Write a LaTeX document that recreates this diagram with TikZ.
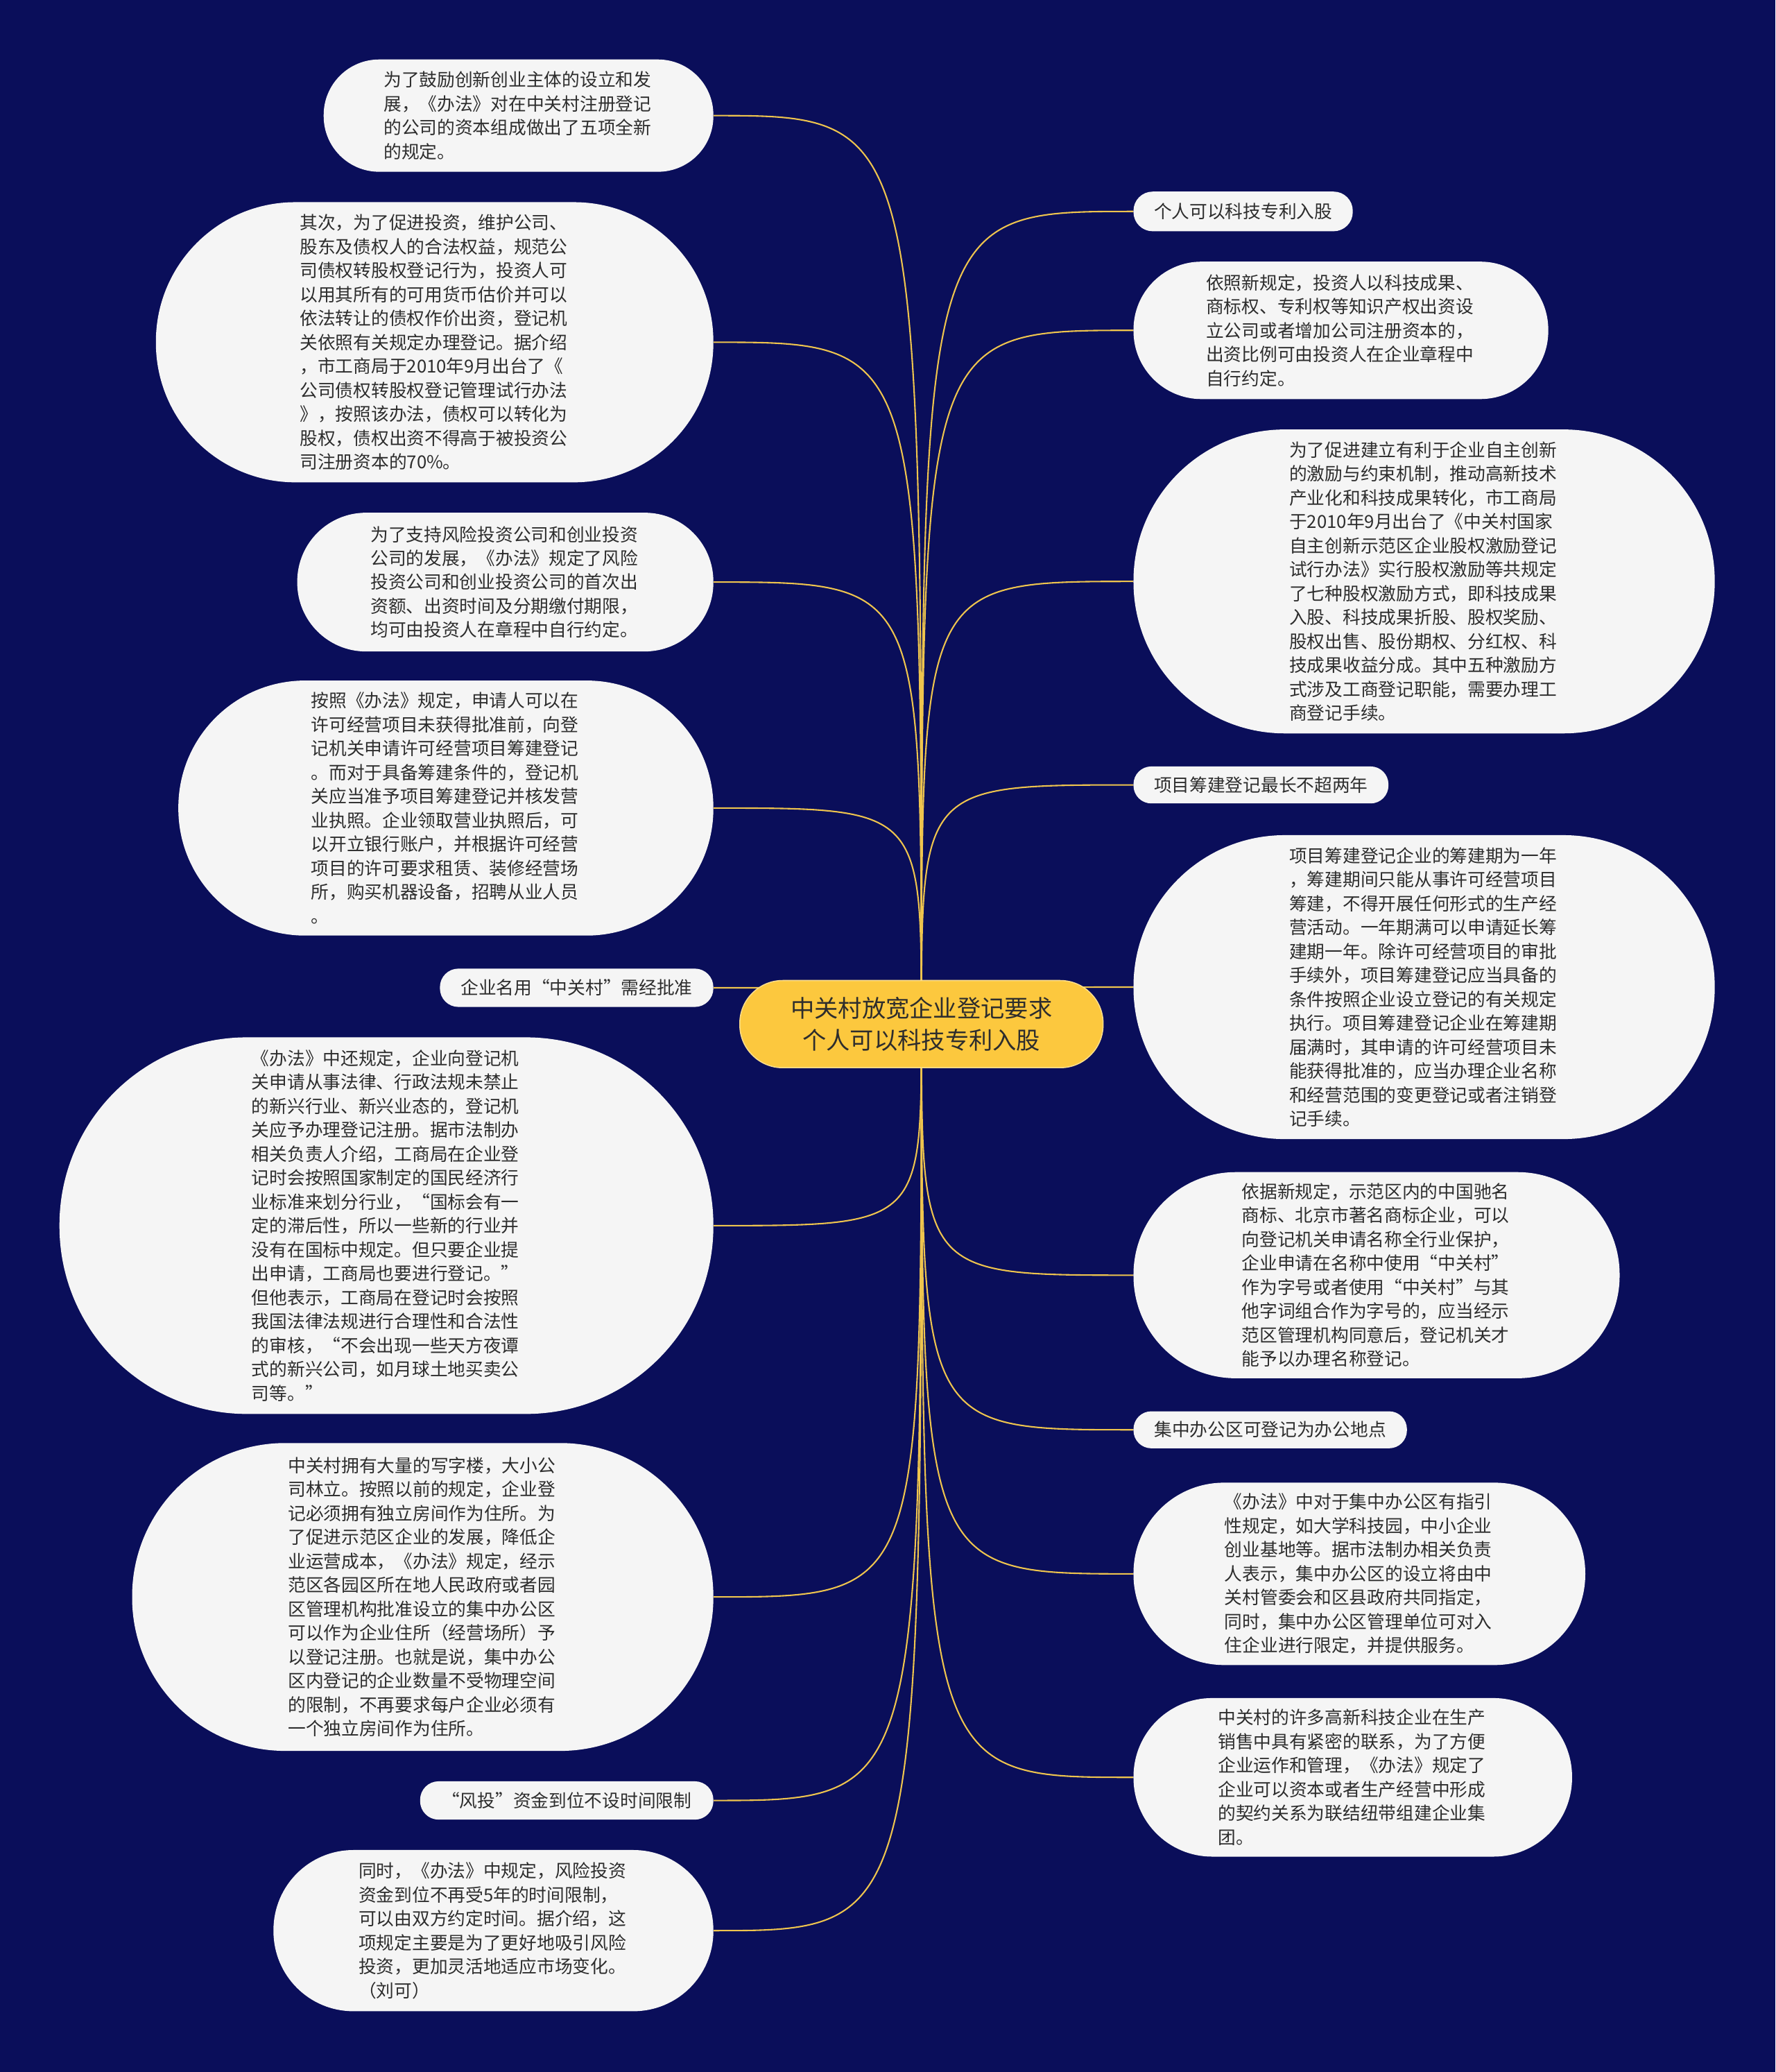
\documentclass[tikz,border=0pt]{standalone}
\usepackage{fontspec}
\newfontfamily\cjk{Noto Sans CJK SC}
\usetikzlibrary{backgrounds}
\definecolor{navybg}{RGB}{10,14,90}
\definecolor{leafwhite}{RGB}{245,245,245}
\definecolor{rootyellow}{RGB}{252,200,62}
\definecolor{linegold}{RGB}{238,196,78}
\definecolor{textgray}{RGB}{45,45,45}
\tikzset{
  root/.style={fill=rootyellow, draw=rootyellow!60!white, line width=0.8pt, rounded corners=32.5pt, minimum width=275pt, minimum height=66pt, inner sep=0pt, align=center, text=textgray, font=\cjk\fontsize{18}{24}\selectfont},
  leaf/.style 2 args={fill=leafwhite, rounded corners=#2/2*1pt-0.5pt, minimum width=#1pt, minimum height=#2pt, inner sep=0pt, text width=204pt, align=left, text=textgray, font=\cjk\fontsize{13.5}{18.1}\selectfont},
  tag/.style 2 args={fill=leafwhite, rounded corners=#2/2*1pt-0.5pt, minimum width=#1pt, minimum height=#2pt, inner sep=0pt, align=center, text=textgray, font=\cjk\fontsize{13.5}{18.1}\selectfont},
  branch/.style={draw=linegold, line width=1.1pt}
}

\begin{document}
\begin{tikzpicture}[x=1pt,y=-1pt]
  \useasboundingbox (0,0) rectangle (1344,1568);
  \node[root] (root) at (697.5,775) {中关村放宽企业登记要求\\个人可以科技专利入股};

  \node[leaf={295}{85}] (l1) at (392.5,87.5) {为了鼓励创新创业主体的设立和发\\展，《办法》对在中关村注册登记\\的公司的资本组成做出了五项全新\\的规定。};
  \node[leaf={422}{212}] (l2) at (329,259) {其次，为了促进投资，维护公司、\\股东及债权人的合法权益，规范公\\司债权转股权登记行为，投资人可\\以用其所有的可用货币估价并可以\\依法转让的债权作价出资，登记机\\关依照有关规定办理登记。据介绍\\，市工商局于2010年9月出台了《\\公司债权转股权登记管理试行办法\\》，按照该办法，债权可以转化为\\股权，债权出资不得高于被投资公\\司注册资本的70\%。};
  \node[leaf={315}{105}] (l3) at (382.5,440.5) {为了支持风险投资公司和创业投资\\公司的发展，《办法》规定了风险\\投资公司和创业投资公司的首次出\\资额、出资时间及分期缴付期限，\\均可由投资人在章程中自行约定。};
  \node[leaf={405}{193}] (l4) at (337.5,611.5) {按照《办法》规定，申请人可以在\\许可经营项目未获得批准前，向登\\记机关申请许可经营项目筹建登记\\。而对于具备筹建条件的，登记机\\关应当准予项目筹建登记并核发营\\业执照。企业领取营业执照后，可\\以开立银行账户，并根据许可经营\\项目的许可要求租赁、装修经营场\\所，购买机器设备，招聘从业人员\\。};
  \node[tag={207}{29}] (l5) at (436.5,747.5) {企业名用“中关村”需经批准};
  \node[leaf={495}{285}] (l6) at (292.5,927.5) {《办法》中还规定，企业向登记机\\关申请从事法律、行政法规未禁止\\的新兴行业、新兴业态的，登记机\\关应予办理登记注册。据市法制办\\相关负责人介绍，工商局在企业登\\记时会按照国家制定的国民经济行\\业标准来划分行业，“国标会有一\\定的滞后性，所以一些新的行业并\\没有在国标中规定。但只要企业提\\出申请，工商局也要进行登记。”\\但他表示，工商局在登记时会按照\\我国法律法规进行合理性和合法性\\的审核，“不会出现一些天方夜谭\\式的新兴公司，如月球土地买卖公\\司等。”};
  \node[leaf={440}{233}] (l7) at (320,1208.5) {中关村拥有大量的写字楼，大小公\\司林立。按照以前的规定，企业登\\记必须拥有独立房间作为住所。为\\了促进示范区企业的发展，降低企\\业运营成本，《办法》规定，经示\\范区各园区所在地人民政府或者园\\区管理机构批准设立的集中办公区\\可以作为企业住所（经营场所）予\\以登记注册。也就是说，集中办公\\区内登记的企业数量不受物理空间\\的限制，不再要求每户企业必须有\\一个独立房间作为住所。};
  \node[tag={222}{29}] (l8) at (429,1362.5) {“风投”资金到位不设时间限制};
  \node[leaf={333}{122}] (l9) at (373.5,1461) {同时，《办法》中规定，风险投资\\资金到位不再受5年的时间限制，\\可以由双方约定时间。据介绍，这\\项规定主要是为了更好地吸引风险\\投资，更加灵活地适应市场变化。\\（刘可）};

  \node[tag={166}{30}] (r1) at (941,160) {个人可以科技专利入股};
  \node[leaf={314}{104}] (r2) at (1015,250) {依照新规定，投资人以科技成果、\\商标权、专利权等知识产权出资设\\立公司或者增加公司注册资本的，\\出资比例可由投资人在企业章程中\\自行约定。};
  \node[leaf={440}{230}] (r3) at (1078,440) {为了促进建立有利于企业自主创新\\的激励与约束机制，推动高新技术\\产业化和科技成果转化，市工商局\\于2010年9月出台了《中关村国家\\自主创新示范区企业股权激励登记\\试行办法》实行股权激励等共规定\\了七种股权激励方式，即科技成果\\入股、科技成果折股、股权奖励、\\股权出售、股份期权、分红权、科\\技成果收益分成。其中五种激励方\\式涉及工商登记职能，需要办理工\\商登记手续。};
  \node[tag={193}{28}] (r4) at (954.5,594) {项目筹建登记最长不超两年};
  \node[leaf={440}{230}] (r5) at (1078,747) {项目筹建登记企业的筹建期为一年\\，筹建期间只能从事许可经营项目\\筹建，不得开展任何形式的生产经\\营活动。一年期满可以申请延长筹\\建期一年。除许可经营项目的审批\\手续外，项目筹建登记应当具备的\\条件按照企业设立登记的有关规定\\执行。项目筹建登记企业在筹建期\\届满时，其申请的许可经营项目未\\能获得批准的，应当办理企业名称\\和经营范围的变更登记或者注销登\\记手续。};
  \node[leaf={368}{156}] (r6) at (1042,965) {依据新规定，示范区内的中国驰名\\商标、北京市著名商标企业，可以\\向登记机关申请名称全行业保护，\\企业申请在名称中使用“中关村”\\作为字号或者使用“中关村”与其\\他字词组合作为字号的，应当经示\\范区管理机构同意后，登记机关才\\能予以办理名称登记。};
  \node[tag={207}{28}] (r7) at (961.5,1082) {集中办公区可登记为办公地点};
  \node[leaf={342}{138}] (r8) at (1029,1191) {《办法》中对于集中办公区有指引\\性规定，如大学科技园，中小企业\\创业基地等。据市法制办相关负责\\人表示，集中办公区的设立将由中\\关村管委会和区县政府共同指定，\\同时，集中办公区管理单位可对入\\住企业进行限定，并提供服务。};
  \node[leaf={332}{120}] (r9) at (1024,1345) {中关村的许多高新科技企业在生产\\销售中具有紧密的联系，为了方便\\企业运作和管理，《办法》规定了\\企业可以资本或者生产经营中形成\\的契约关系为联结纽带组建企业集\\团。};

  \begin{scope}[on background layer]
    \fill[navybg] (0,0) rectangle (1344,1568);
    \draw[branch] (root.center) .. controls (root.center |- l1.east) .. (l1.east);
    \draw[branch] (root.center) .. controls (root.center |- l2.east) .. (l2.east);
    \draw[branch] (root.center) .. controls (root.center |- l3.east) .. (l3.east);
    \draw[branch] (root.center) .. controls (root.center |- l4.east) .. (l4.east);
    \draw[branch] (root.center) .. controls (root.center |- l5.east) .. (l5.east);
    \draw[branch] (root.center) .. controls (root.center |- l6.east) .. (l6.east);
    \draw[branch] (root.center) .. controls (root.center |- l7.east) .. (l7.east);
    \draw[branch] (root.center) .. controls (root.center |- l8.east) .. (l8.east);
    \draw[branch] (root.center) .. controls (root.center |- l9.east) .. (l9.east);
    \draw[branch] (root.center) .. controls (root.center |- r1.west) .. (r1.west);
    \draw[branch] (root.center) .. controls (root.center |- r2.west) .. (r2.west);
    \draw[branch] (root.center) .. controls (root.center |- r3.west) .. (r3.west);
    \draw[branch] (root.center) .. controls (root.center |- r4.west) .. (r4.west);
    \draw[branch] (root.center) .. controls (root.center |- r5.west) .. (r5.west);
    \draw[branch] (root.center) .. controls (root.center |- r6.west) .. (r6.west);
    \draw[branch] (root.center) .. controls (root.center |- r7.west) .. (r7.west);
    \draw[branch] (root.center) .. controls (root.center |- r8.west) .. (r8.west);
    \draw[branch] (root.center) .. controls (root.center |- r9.west) .. (r9.west);
  \end{scope}
\end{tikzpicture}
\end{document}
